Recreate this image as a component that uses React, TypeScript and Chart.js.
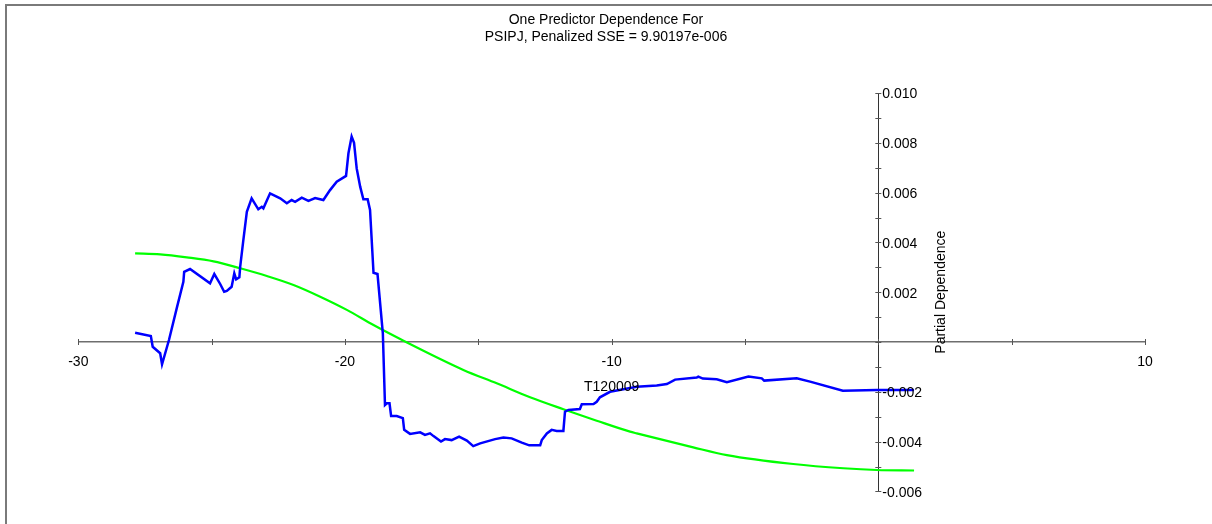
import React, { useEffect, useRef } from 'react';
import { Chart, registerables } from 'chart.js';

Chart.register(...registerables);

const TITLE_LINES = ['One Predictor Dependence For', 'PSIPJ, Penalized SSE = 9.90197e-006'];
const X_TITLE = 'T120009';
const Y_TITLE = 'Partial Dependence';

const X_MIN = -30;
const X_MAX = 10;
const X_STEP = 5;
const Y_MIN = -0.006;
const Y_MAX = 0.01;
const Y_STEP = 0.001;

const blueX = [
  -27.87, -27.28, -27.21, -26.93, -26.86, -26.6, -26.31, -26.06, -26.03, -25.81,
  -25.06, -24.9, -24.68, -24.53, -24.43, -24.25, -24.15, -24.08, -23.96, -23.93,
  -23.81, -23.68, -23.5, -23.25, -23.12, -23.06, -22.81, -22.43, -22.18, -22.0,
  -21.87, -21.62, -21.37, -21.12, -20.81, -20.56, -20.31, -19.96, -19.87, -19.75,
  -19.66, -19.56, -19.43, -19.31, -19.15, -19.06, -18.93, -18.78, -18.58, -18.5,
  -18.43, -18.33, -18.27, -18.06, -17.83, -17.78, -17.56, -17.18, -17.0, -16.81,
  -16.68, -16.4, -16.25, -16.0, -15.72, -15.43, -15.19, -14.93, -14.37, -14.06,
  -13.75, -13.37, -13.09, -12.68, -12.62, -12.43, -12.25, -12.06, -11.81, -11.75,
  -11.62, -11.19, -11.12, -10.68, -10.56, -10.44, -10.06, -9.06, -8.31, -7.93,
  -7.62, -6.81, -6.75, -6.58, -6.06, -5.68, -4.87, -4.37, -4.28, -3.06,
  -2.56, -1.33, -0.06, 1.34,
];
const blueY = [
  0.00037, 0.00024, -0.00019, -0.00045, -0.0009, 0.00008, 0.00135, 0.00242, 0.00282, 0.00293,
  0.00236, 0.00273, 0.00233, 0.00202, 0.00205, 0.00222, 0.00276, 0.00252, 0.0026, 0.00302,
  0.0041, 0.00523, 0.00577, 0.00533, 0.00543, 0.00537, 0.00597, 0.00577, 0.00557, 0.0057,
  0.00563, 0.0058, 0.00567, 0.00578, 0.0057, 0.0061, 0.00644, 0.00667, 0.00758, 0.00825,
  0.008, 0.00697, 0.00624, 0.00573, 0.00573, 0.0053, 0.00278, 0.00273, 0.00035, -0.00253,
  -0.00246, -0.00246, -0.00297, -0.00297, -0.00306, -0.00353, -0.00369, -0.00363, -0.00373, -0.00367,
  -0.00378, -0.004, -0.0039, -0.00394, -0.0038, -0.00396, -0.00418, -0.00407, -0.0039, -0.00384,
  -0.00387, -0.00404, -0.00415, -0.00415, -0.00394, -0.00367, -0.00353, -0.00357, -0.00357, -0.0028,
  -0.00273, -0.00269, -0.0025, -0.00249, -0.0024, -0.00222, -0.002, -0.0018, -0.00175, -0.00169,
  -0.00151, -0.00143, -0.00139, -0.00147, -0.0015, -0.00161, -0.00139, -0.00146, -0.00155, -0.00146,
  -0.00159, -0.00196, -0.00193, -0.00193,
];

const greenX = [
  -27.87, -26.93, -25.93, -24.93, -23.93, -22.93, -21.93, -20.93, -19.93, -18.93,
  -17.93, -15.56, -14.31, -13.06, -11.81, -10.56, -9.31, -9.06, -6.94, -5.68,
  -3.19, -1.31, -0.06, 1.34,
];
const greenY = [
  0.00356, 0.00352, 0.0034, 0.00324, 0.00296, 0.00265, 0.00229, 0.00182, 0.00129, 0.00068,
  0.00012, -0.00112, -0.00166, -0.00222, -0.0027, -0.00316, -0.0036, -0.00367, -0.00423, -0.00454,
  -0.0049, -0.00507, -0.00514, -0.00516,
];

const FONT = "'Liberation Sans', Arial, sans-serif";

const decoPlugin = {
  id: 'deco',
  beforeDraw(chart: any) {
    const ctx = chart.ctx;
    ctx.save();
    ctx.strokeStyle = '#7a7a7a';
    ctx.lineWidth = 2;
    ctx.beginPath();
    ctx.moveTo(6, chart.height);
    ctx.lineTo(6, 5);
    ctx.lineTo(chart.width, 5);
    ctx.stroke();
    ctx.restore();
  },
  afterDraw(chart: any) {
    const ctx = chart.ctx;
    const xs = chart.scales.x;
    const ys = chart.scales.y;
    const ax = xs.getPixelForValue(0);
    const ay = ys.getPixelForValue(0);
    ctx.save();
    // tick marks crossing the axes
    ctx.strokeStyle = '#555';
    ctx.lineWidth = 1;
    xs.ticks.forEach((t: any) => {
      const px = Math.round(xs.getPixelForValue(t.value)) + 0.5;
      ctx.beginPath();
      ctx.moveTo(px, ay - 3);
      ctx.lineTo(px, ay + 3);
      ctx.stroke();
    });
    ys.ticks.forEach((t: any) => {
      const py = Math.round(ys.getPixelForValue(t.value)) + 0.5;
      ctx.beginPath();
      ctx.moveTo(ax - 3, py);
      ctx.lineTo(ax + 3, py);
      ctx.stroke();
    });
    // y tick labels, right of the axis
    ctx.fillStyle = '#000';
    ctx.font = `14px ${FONT}`;
    ctx.textAlign = 'left';
    ctx.textBaseline = 'middle';
    ys.ticks.forEach((t: any) => {
      const k = Math.round(t.value * 1000);
      if (k === 0 || k % 2 !== 0) return;
      ctx.fillText(t.value.toFixed(3), ax + 4, ys.getPixelForValue(t.value) + 1.5);
    });
    // axis titles
    ctx.textAlign = 'center';
    ctx.fillText(X_TITLE, (xs.left + xs.right) / 2, ay + 45);
    ctx.save();
    ctx.translate(ax + 63, (ys.top + ys.bottom) / 2);
    ctx.rotate(-Math.PI / 2);
    ctx.fillText(Y_TITLE, 0, 0);
    ctx.restore();
    // chart title
    TITLE_LINES.forEach((line, i) => {
      ctx.fillText(line, chart.width / 2, 19.7 + i * 17);
    });
    ctx.restore();
  },
};

export default function App() {
  const ref = useRef<HTMLCanvasElement | null>(null);
  useEffect(() => {
    if (!ref.current) return;
    const chart = new Chart(ref.current, {
      type: 'line',
      data: {
        datasets: [
          {
            label: 'Partial dependence',
            data: blueX.map((x, i) => ({ x, y: blueY[i] })),
            borderColor: '#0000ff',
            borderWidth: 2.5,
            pointRadius: 0,
            tension: 0,
            fill: false,
          },
          {
            label: 'Smooth',
            data: greenX.map((x, i) => ({ x, y: greenY[i] })),
            borderColor: '#00ff00',
            borderWidth: 2.2,
            pointRadius: 0,
            tension: 0.3,
            cubicInterpolationMode: 'monotone',
            fill: false,
          },
        ],
      },
      options: {
        responsive: false,
        animation: false,
        events: [],
        layout: { padding: { left: 78.3, right: 67, top: 93, bottom: 32.6 } },
        plugins: {
          legend: { display: false },
          title: { display: false },
          tooltip: { enabled: false },
        },
        scales: {
          x: {
            type: 'linear',
            min: X_MIN,
            max: X_MAX,
            position: { y: 0 },
            grid: { display: false, drawTicks: false },
            border: { display: true, color: '#6e6e6e', width: 1.5 },
            ticks: {
              stepSize: X_STEP,
              autoSkip: false,
              maxRotation: 0,
              padding: 11.6,
              color: '#000',
              font: { family: FONT, size: 14 },
              callback: (v: any) => {
                const n = Number(v);
                return n % 10 === 0 && n !== 0 ? String(n) : '';
              },
            },
          },
          y: {
            type: 'linear',
            min: Y_MIN,
            max: Y_MAX,
            position: { x: 0 },
            grid: { display: false, drawTicks: false },
            border: { display: true, color: '#333', width: 1 },
            ticks: { display: false, stepSize: Y_STEP },
          },
        },
      },
      plugins: [decoPlugin],
    } as any);
    return () => chart.destroy();
  }, []);
  return (
    <div style={{ position: 'absolute', left: 0, top: 0, width: 1212, height: 524 }}>
      <canvas ref={ref} width={1212} height={524} />
    </div>
  );
}
